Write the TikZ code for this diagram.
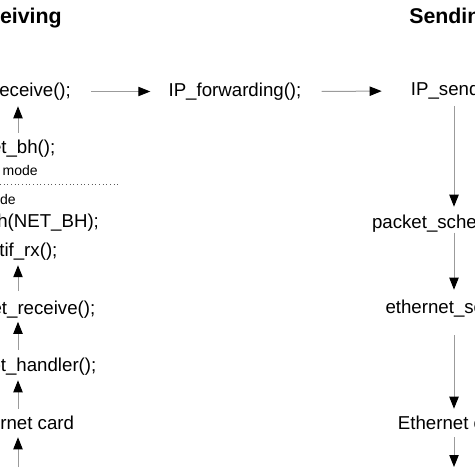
\documentclass[tikz,border=0pt]{standalone}
\usepackage{fontspec}
\setmainfont{Liberation Sans}
\usepackage{tikz}
\usetikzlibrary{arrows.meta}

\begin{document}
\begin{tikzpicture}[x=0.75pt,y=0.75pt,yscale=-1,xscale=1,
  fn/.style={anchor=base,inner sep=0.75pt,text height=10.5pt,text depth=3pt,font=\fontsize{14}{16}\selectfont},
  ttl/.style={inner sep=0.75pt,font=\fontsize{16}{18}\selectfont\bfseries},
  note/.style={anchor=base east,inner sep=0.75pt,font=\fontsize{10.5}{12}\selectfont},
  flow/.style={draw={rgb, 255:red, 155; green, 155; blue, 155 },line width=0.75pt,-{Triangle[length=9pt,width=7pt,color=black]}}]
\useasboundingbox (0,0) rectangle (474,474);
\clip (0,0) rectangle (474,474);

% Text Node
\draw (63,24) node [ttl,anchor=base east] (rtitle) {Receiving};
% Text Node
\draw (408,24) node [ttl,anchor=base west] (stitle) {Sending};

% Text Node
\draw (18,96.5) node [fn] (iprecv) {IP\_receive();};
% Text Node
\draw (235,96.5) node [fn] (ipfwd) {IP\_forwarding();};
% Text Node
\draw (454,96) node [fn] (ipsend) {IP\_send();};

% Text Node
\draw (18,153.5) node [fn] (netbh) {net\_bh();};
% Text Node
\draw (39,175.5) node [note] (upmode) {Kernel mode};
% Text Node
\draw (17,204) node [note] (lowmode) {Interrupt mode};
% Text Node
\draw (17,227.5) node [fn] (markbh) {mark\_bh(NET\_BH);};
% Text Node
\draw (18,256.5) node [fn] (netifrx) {netif\_rx();};
% Text Node
\draw (17,314.5) node [fn] (ethrecv) {ethernet\_receive();};
% Text Node
\draw (17,371) node [fn] (inthandler) {interrupt\_handler();};
% Text Node
\draw (18,429) node [fn] (cardin) {Ethernet card};

% Text Node
\draw (454,228) node [fn] (pktsched) {packet\_scheduler();};
% Text Node
\draw (454,313.5) node [fn] (ethsend) {ethernet\_send();};
% Text Node
\draw (454,429) node [fn] (cardout) {Ethernet card};

%Free ends
\coordinate (wirein) at (18,467);
\coordinate (wireout) at (454,467);

%Straight Lines
\draw [color={rgb, 255:red, 90; green, 90; blue, 90 },line width=0.75pt,dotted] (0,184) -- (118,184);

%Straight Lines
\draw [flow,shorten <=4.1pt,shorten >=3.4pt] (netbh.north) -- (iprecv.south);
%Straight Lines
\draw [flow,shorten <=6pt,shorten >=2.6pt] (ethrecv.north -| netifrx) -- (netifrx.south);
%Straight Lines
\draw [flow,shorten <=4.5pt,shorten >=1.5pt] (inthandler.north -| netifrx) -- (ethrecv.south -| netifrx);
%Straight Lines
\draw [flow,shorten <=3.75pt,shorten >=3pt] (cardin.north) -- (inthandler.south -| cardin);
%Straight Lines
\draw [flow,shorten >=2.25pt] (wirein) -- (cardin.south);

%Straight Lines
\draw [flow,shorten <=14.25pt,shorten >=12.75pt] (iprecv.east) -- (ipfwd.west);
%Straight Lines
\draw [flow,shorten <=14.25pt,shorten >=21pt] (ipfwd.east) -- (ipsend.west);

%Straight Lines
\draw [flow,shorten <=3.4pt,shorten >=4.5pt] (ipsend.south) -- (pktsched.north);
%Straight Lines
\draw [flow,shorten <=-0.5pt,shorten >=6.4pt] (pktsched.south) -- (ethsend.north);
%Straight Lines
\draw [flow,shorten <=12.4pt,shorten >=3.75pt] (ethsend.south) -- (cardout.north);
%Straight Lines
\draw [flow,shorten <=2.25pt] (cardout.south) -- (wireout);

\end{tikzpicture}
\end{document}
